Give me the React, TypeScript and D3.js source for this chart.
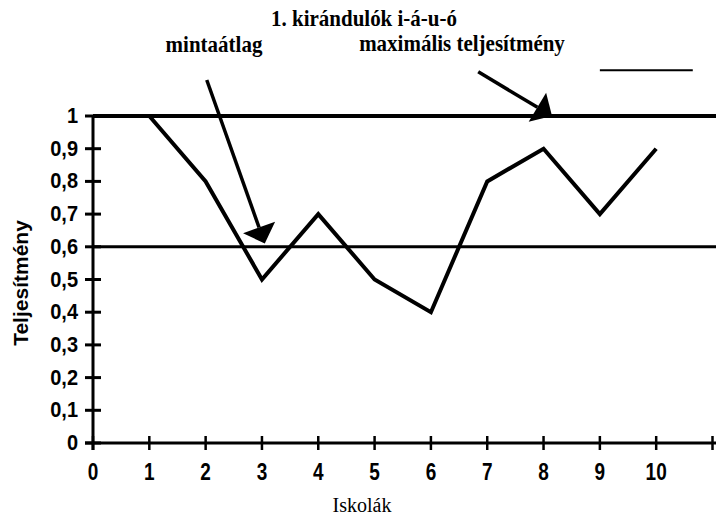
import React from "react";
import * as d3 from "d3";

const schools = [1, 2, 3, 4, 5, 6, 7, 8, 9, 10];
const performance = [1, 0.8, 0.5, 0.7, 0.5, 0.4, 0.8, 0.9, 0.7, 0.9];
const xTicks = [0, 1, 2, 3, 4, 5, 6, 7, 8, 9, 10];
const yTicks = [0, 0.1, 0.2, 0.3, 0.4, 0.5, 0.6, 0.7, 0.8, 0.9, 1];
const sampleMean = 0.6;
const maxPerformance = 1;
const title = "1. kirándulók i-á-u-ó";
const meanLabel = "mintaátlag";
const maxLabel = "maximális teljesítmény";
const xTitle = "Iskolák";
const yTitle = "Teljesítmény";
// arrow annotations in data coordinates: [fromX, fromY, tipX, tipY]
const meanArrow = [2.02, 1.11, 3.05, 0.61];
const maxArrow = [6.84, 1.135, 8.15, 1.0];
const legendLine = [9.0, 10.65, 1.14];

const W = 716;
const H = 517;
const serif = "'Liberation Serif', 'Times New Roman', serif";
const sans = "'Liberation Sans', Arial, sans-serif";

function Arrow({ a, x, y }: { a: number[]; x: any; y: any }) {
  const x1 = x(a[0]), y1 = y(a[1]), tx = x(a[2]), ty = y(a[3]);
  const dx = tx - x1, dy = ty - y1;
  const len = Math.hypot(dx, dy);
  const ux = dx / len, uy = dy / len;
  const hl = 17, hw = 17;
  const bx = tx - ux * hl, by = ty - uy * hl;
  const px = -uy, py = ux;
  const pts = [
    [tx, ty],
    [bx + px * hw, by + py * hw],
    [bx - px * hw, by - py * hw],
  ];
  return (
    <g>
      <line x1={x1} y1={y1} x2={bx} y2={by} stroke="#000" strokeWidth={3.5} />
      <polygon points={pts.map((p) => p.join(",")).join(" ")} fill="#000" />
    </g>
  );
}

export default function App() {
  const x = d3.scaleLinear().domain([0, 11]).range([93, 712.5]);
  const y = d3.scaleLinear().domain([0, 1]).range([443, 116]);
  const line = d3
    .line<number>()
    .x((_, i) => x(schools[i]))
    .y((d) => y(d));
  const fmt = (v: number) => (v === 0 || v === 1 ? String(v) : d3.format(".1f")(v).replace(".", ","));

  return (
    <svg
      width={W}
      height={H}
      style={{ position: "absolute", left: 0, top: 0, background: "#fff" }}
    >
      <rect width={W} height={H} fill="#fff" />
      {/* titles */}
      <text transform="translate(364,26) scale(1,1.12)" textAnchor="middle" fontFamily={serif} fontWeight="bold" fontSize={21}>
        {title}
      </text>
      <text transform="translate(214,52) scale(1,1.12)" textAnchor="middle" fontFamily={serif} fontWeight="bold" fontSize={21}>
        {meanLabel}
      </text>
      <text transform="translate(462,51) scale(1,1.12)" textAnchor="middle" fontFamily={serif} fontWeight="bold" fontSize={21}>
        {maxLabel}
      </text>
      <line x1={x(legendLine[0])} x2={x(legendLine[1])} y1={y(legendLine[2])} y2={y(legendLine[2])} stroke="#000" strokeWidth={2} />

      {/* reference lines */}
      <line x1={x(0)} x2={W} y1={y(maxPerformance)} y2={y(maxPerformance)} stroke="#000" strokeWidth={4} />
      <line x1={x(0)} x2={W} y1={y(sampleMean)} y2={y(sampleMean)} stroke="#000" strokeWidth={3} />

      {/* y axis */}
      <line x1={x(0)} x2={x(0)} y1={y(0) + 7} y2={y(1)} stroke="#000" strokeWidth={3} />
      {yTicks.map((t) => (
        <g key={t}>
          <line x1={x(0) - 8} x2={x(0) + 8} y1={y(t)} y2={y(t)} stroke="#000" strokeWidth={3} />
          <text
            transform={`translate(78,${y(t) + 7}) scale(1,1.08)`}
            textAnchor="end"
            fontFamily={sans}
            fontWeight="bold"
            fontSize={20}
          >
            {fmt(t)}
          </text>
        </g>
      ))}

      {/* x axis */}
      <line x1={x(0) - 8} x2={W} y1={y(0)} y2={y(0)} stroke="#000" strokeWidth={3} />
      {xTicks.map((t) => (
        <g key={t}>
          <line x1={x(t)} x2={x(t)} y1={y(0) - 7} y2={y(0) + 7} stroke="#000" strokeWidth={2.5} />
          <text
            transform={`translate(${x(t)},${480}) scale(1,1.3)`}
            textAnchor="middle"
            fontFamily={sans}
            fontWeight="bold"
            fontSize={19}
          >
            {t}
          </text>
        </g>
      ))}
      <line x1={x(11)} x2={x(11)} y1={y(0) - 7} y2={y(0) + 7} stroke="#000" strokeWidth={2.5} />

      {/* data */}
      <path d={line(performance) || ""} fill="none" stroke="#000" strokeWidth={4} strokeLinejoin="miter" />

      {/* arrows */}
      <Arrow a={meanArrow} x={x} y={y} />
      <Arrow a={maxArrow} x={x} y={y} />

      {/* axis titles */}
      <text x={362} y={512} textAnchor="middle" fontFamily={serif} fontSize={20}>
        {xTitle}
      </text>
      <text
        transform={`translate(28,${283}) rotate(-90)`}
        textAnchor="middle"
        fontFamily={sans}
        fontWeight="bold"
        fontSize={21}
      >
        {yTitle}
      </text>
    </svg>
  );
}
